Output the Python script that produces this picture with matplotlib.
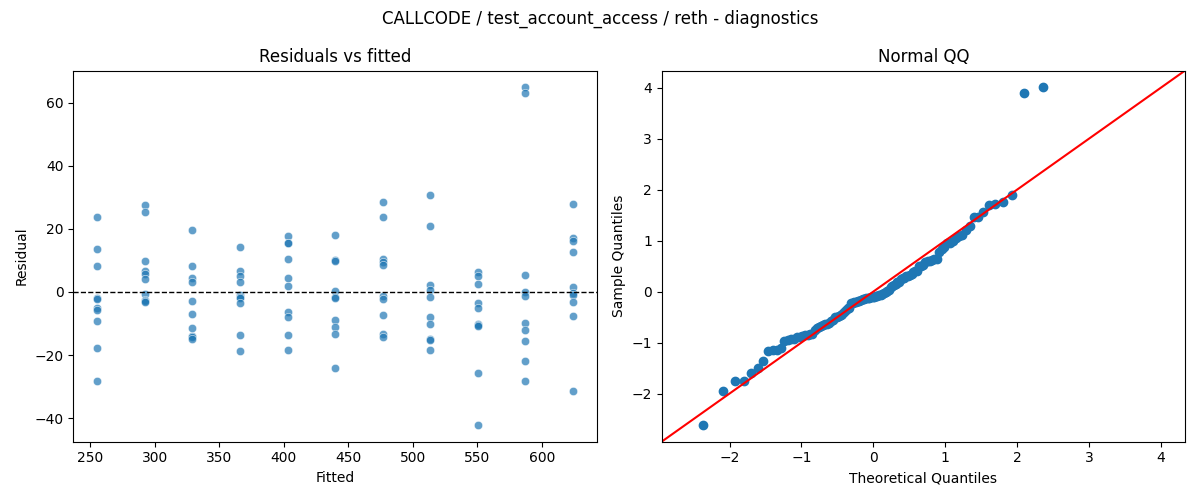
"""Regression diagnostics: residuals vs fitted and normal QQ."""
from statistics import NormalDist

import numpy as np
import matplotlib
matplotlib.use("Agg")
import matplotlib.pyplot as plt
import seaborn as sns

TITLE = "CALLCODE / test_account_access / reth - diagnostics"

# fitted levels (one per group of repeated measurements)
fitted_levels = [255.2, 292.1, 329.0, 365.9, 402.8, 439.7, 476.6, 513.5, 550.4, 587.3, 624.2]

# residuals, one list per fitted level
residuals_by_level = [
    [23.9, 13.5, 8.2, -1.8, -2.3, -5.0, -5.7, -9.2, -17.8, -28.2],
    [27.7, 25.5, 9.8, 6.6, 5.7, 4.0, -0.6, -2.5, -2.8, -3.1],
    [19.5, 8.2, 4.3, 3.1, -2.9, -6.9, -11.3, -13.9, -14.3, -14.8],
    [14.2, 6.7, 5.05, 3.1, -1.0, -1.5, -2.0, -3.4, -13.7, -18.7],
    [17.7, 15.6, 15.4, 10.6, 4.3, 1.8, -6.2, -7.9, -13.7, -18.3],
    [18.2, 10.1, 9.9, 0.4, -1.5, -1.9, -8.8, -11.1, -13.4, -24.0],
    [28.4, 23.7, 10.4, 9.5, 8.4, -1.2, -2.3, -7.3, -13.4, -14.2],
    [30.6, 21.0, 2.2, 0.6, -1.7, -8.0, -10.2, -14.9, -15.3, -18.3],
    [6.4, 5.2, 2.5, -3.4, -5.2, -10.1, -10.4, -10.8, -25.6, -42.1],
    [64.8, 63.2, 5.4, 0.1, -1.3, -9.9, -12.1, -15.4, -21.9, -28.2],
    [28.0, 17.0, 16.1, 12.6, 1.5, -0.4, -1.0, -3.3, -7.7, -31.3],
]


def main():
    fitted = np.concatenate([[f] * len(r) for f, r in zip(fitted_levels, residuals_by_level)])
    resid = np.concatenate(residuals_by_level)

    fig, (ax1, ax2) = plt.subplots(1, 2, figsize=(12, 5))

    sns.scatterplot(x=fitted, y=resid, ax=ax1, alpha=0.7)
    ax1.axhline(0, color="k", linestyle="--", linewidth=1)
    ax1.set_xlabel("Fitted")
    ax1.set_ylabel("Residual")
    ax1.set_title("Residuals vs fitted")

    # normal QQ (fit=True, line='45'), like statsmodels qqplot
    n = len(resid)
    loc, scale = resid.mean(), resid.std()
    sample_q = (np.sort(resid) - loc) / scale
    nd = NormalDist()
    theo_q = np.array([nd.inv_cdf(i / (n + 1)) for i in range(1, n + 1)])
    ax2.plot(theo_q, sample_q, marker="o", linestyle="none",
             markerfacecolor="C0", markeredgecolor="C0")
    xlim, ylim = ax2.get_xlim(), ax2.get_ylim()
    end_pts = [min(xlim[0], ylim[0]), max(xlim[1], ylim[1])]
    ax2.plot(end_pts, end_pts, "r")
    ax2.set_xlim(end_pts)
    ax2.set_ylim(end_pts)
    ax2.set_xlabel("Theoretical Quantiles")
    ax2.set_ylabel("Sample Quantiles")
    ax2.set_title("Normal QQ")

    fig.suptitle(TITLE)
    fig.tight_layout()
    fig.savefig("out.png", dpi=100)


if __name__ == "__main__":
    main()
